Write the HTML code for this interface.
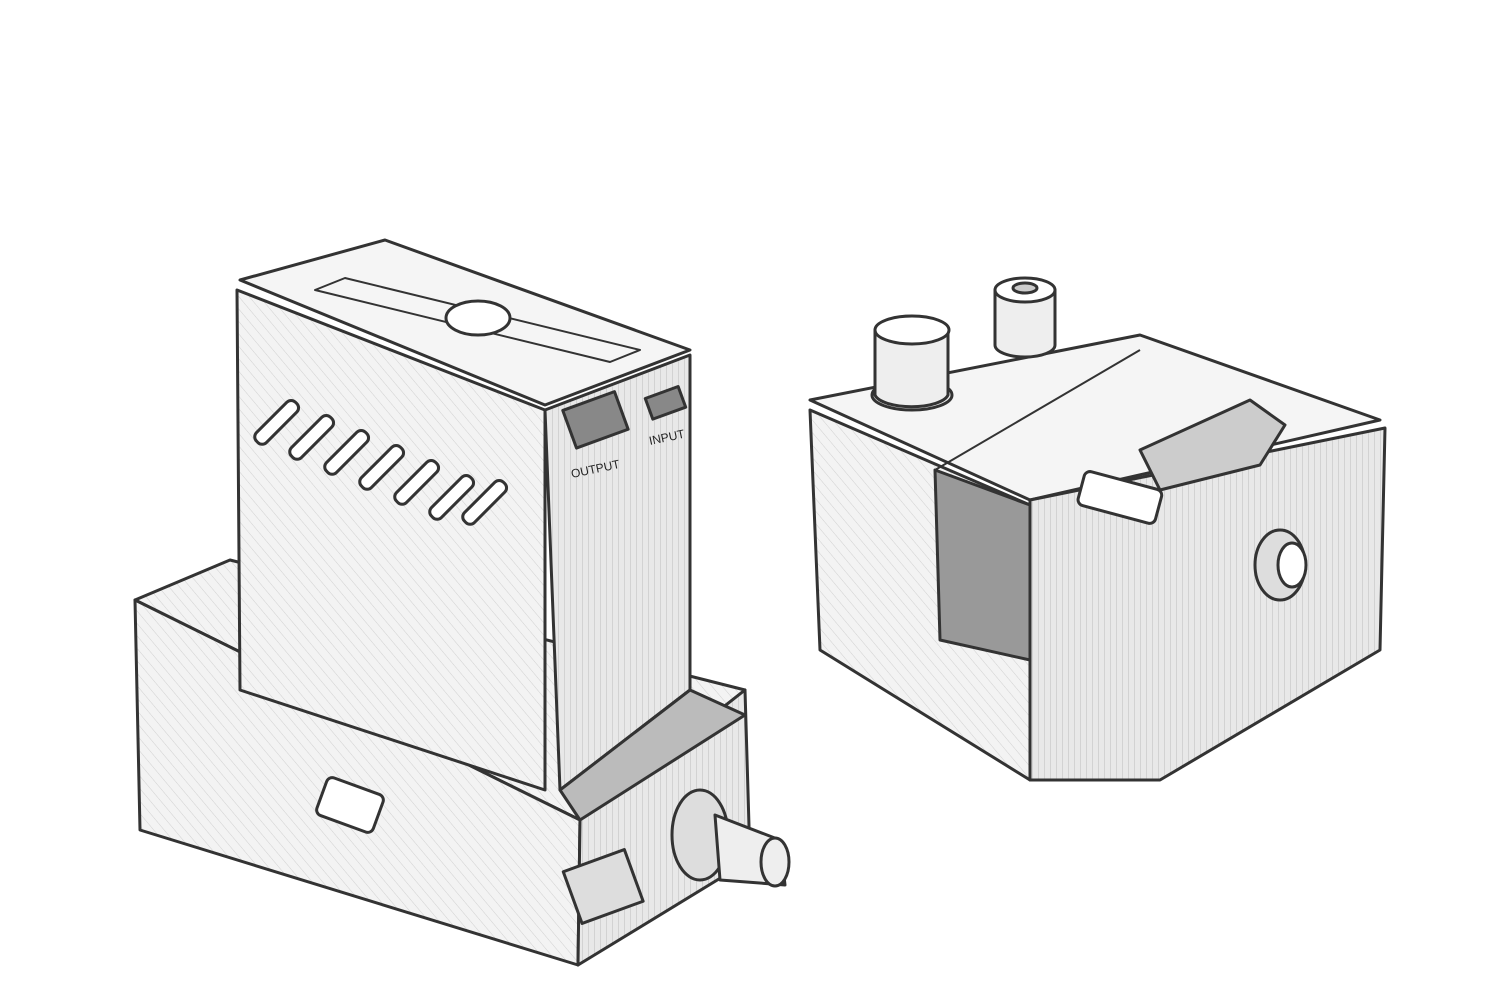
<!DOCTYPE html>
<html><head><style>html,body{margin:0;padding:0;background:#fff}svg{display:block}</style></head>
<body>
<svg width="1500" height="1000" viewBox="0 0 1500 1000" xmlns="http://www.w3.org/2000/svg">
<defs>
<pattern id="h" width="8" height="8" patternUnits="userSpaceOnUse" patternTransform="rotate(-40)">
<rect width="8" height="8" fill="#f3f3f3"/><line x1="0" y1="0" x2="0" y2="8" stroke="#d0d0d0" stroke-width="1"/></pattern>
<pattern id="v" width="6" height="6" patternUnits="userSpaceOnUse">
<rect width="6" height="6" fill="#e8e8e8"/><line x1="0" y1="0" x2="0" y2="6" stroke="#bdbdbd" stroke-width="1"/></pattern>
</defs>
<g stroke="#333" stroke-width="3" stroke-linejoin="round" fill="url(#h)">
<!-- base -->
<polygon points="135,600 230,560 745,690 580,820"/>
<polygon points="135,600 580,820 578,965 140,830"/>
<polygon points="580,820 745,690 750,860 578,965" fill="url(#v)"/>
<rect x="570" y="860" width="65" height="55" fill="#ddd" transform="rotate(-20 600 885)"/>
<ellipse cx="700" cy="835" rx="28" ry="45" fill="#ddd"/>
<polygon points="715,815 780,840 785,885 720,880" fill="#eee"/>
<ellipse cx="775" cy="862" rx="14" ry="24" fill="#eee"/>
<rect x="320" y="785" width="60" height="40" rx="6" fill="#fff" transform="rotate(20 350 805)"/>
<!-- battery -->
<polygon points="240,280 385,240 690,350 545,405" fill="#f5f5f5"/>
<polygon points="237,290 545,410 545,790 240,690" />
<polygon points="545,410 690,355 690,690 560,790" fill="url(#v)"/>
<polygon points="560,790 690,690 745,715 580,820" fill="#bbb"/>
<polygon points="315,290 345,278 640,350 610,362" fill="none" stroke-width="2"/>
<ellipse cx="478" cy="318" rx="32" ry="17" fill="#fff"/>
<rect x="568" y="400" width="55" height="40" fill="#888" transform="rotate(-20 595 420)"/>
<rect x="648" y="392" width="35" height="22" fill="#888" transform="rotate(-20 665 403)"/>
<g fill="#fff">
<rect x="270" y="395" width="14" height="55" rx="6" transform="rotate(45 277 422)"/>
<rect x="305" y="410" width="14" height="55" rx="6" transform="rotate(45 312 437)"/>
<rect x="340" y="425" width="14" height="55" rx="6" transform="rotate(45 347 452)"/>
<rect x="375" y="440" width="14" height="55" rx="6" transform="rotate(45 382 467)"/>
<rect x="410" y="455" width="14" height="55" rx="6" transform="rotate(45 417 482)"/>
<rect x="445" y="470" width="14" height="55" rx="6" transform="rotate(45 452 497)"/>
<rect x="478" y="475" width="14" height="55" rx="6" transform="rotate(45 485 502)"/>
</g>
<!-- right device -->
<polygon points="810,400 1140,335 1380,420 1030,500" fill="#f5f5f5"/>
<polygon points="810,410 1030,505 1030,780 820,650"/>
<polygon points="1030,500 1385,428 1380,650 1160,780 1030,780" fill="url(#v)"/>
<polygon points="935,470 1030,505 1030,660 940,640" fill="#999"/>
<line x1="935" y1="470" x2="1140" y2="350" stroke-width="2"/>
<polygon points="1140,450 1250,400 1285,425 1260,465 1160,490" fill="#ccc"/>
<rect x="1080" y="480" width="80" height="35" rx="6" fill="#fff" transform="rotate(15 1120 497)"/>
<ellipse cx="1280" cy="565" rx="25" ry="35" fill="#ddd"/>
<ellipse cx="1292" cy="565" rx="14" ry="22" fill="#fff"/>
<ellipse cx="912" cy="395" rx="40" ry="15" fill="#eee"/>
<path d="M875,330 L875,395 A37,14 0 0 0 948,395 L948,330 Z" fill="#eee"/>
<ellipse cx="912" cy="330" rx="37" ry="14" fill="#fff"/>
<path d="M995,290 L995,345 A30,12 0 0 0 1055,345 L1055,290 Z" fill="#eee"/>
<ellipse cx="1025" cy="290" rx="30" ry="12" fill="#fff"/>
<ellipse cx="1025" cy="288" rx="12" ry="5" fill="#ccc"/>
</g>
<g font-family="Liberation Sans, sans-serif" font-size="12" fill="#222">
<text x="572" y="478" transform="rotate(-12 572 478)">OUTPUT</text>
<text x="650" y="445" transform="rotate(-12 650 445)">INPUT</text>
</g>
</svg>
</body></html>
